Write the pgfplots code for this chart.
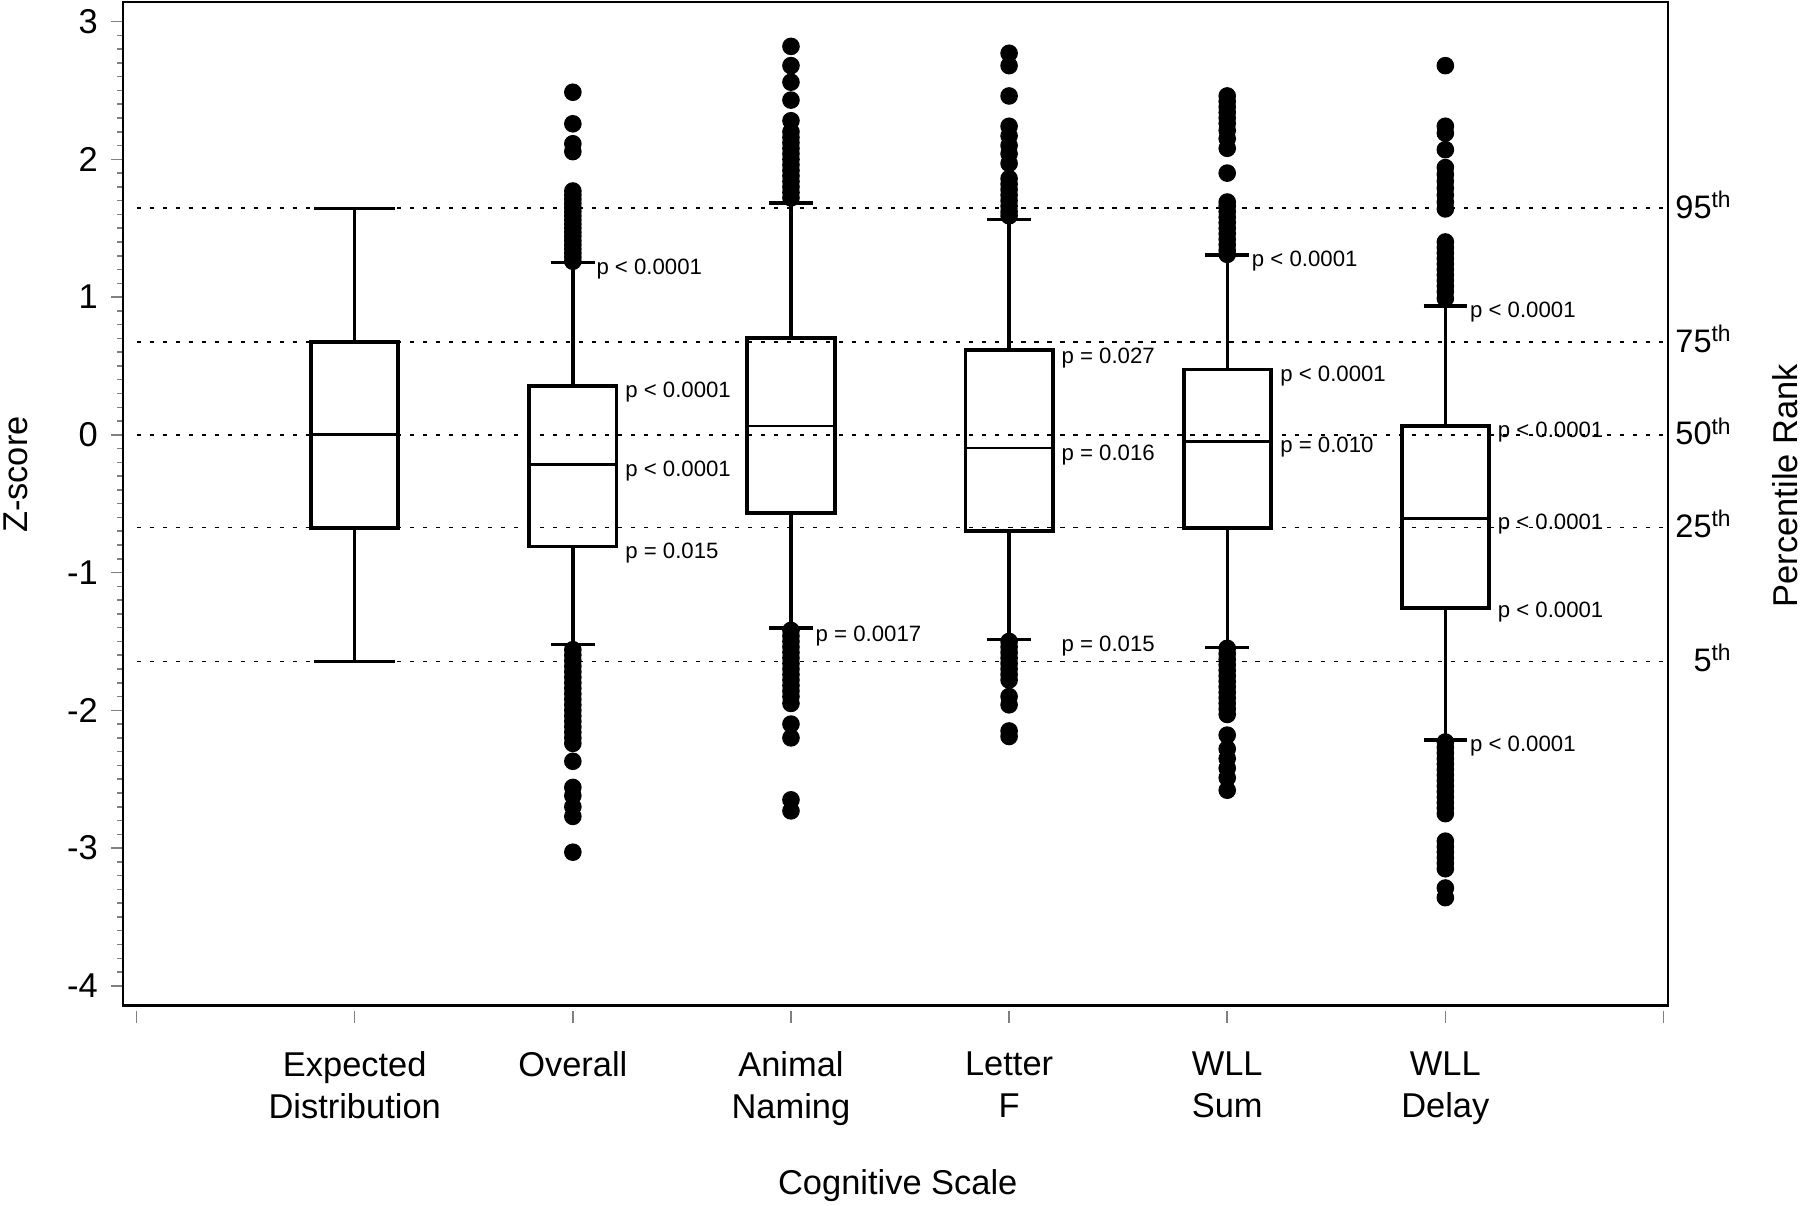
\documentclass[border=0pt]{standalone}
\usepackage{pgfplots}
\pgfplotsset{compat=1.18}
\usepgfplotslibrary{statistics}
\usepackage{fontspec}
\setmainfont{Liberation Sans}

\begin{document}
\begin{tikzpicture}
\begin{axis}[
  scale only axis, width=403.8pt, height=262.2pt,
  xmin=-0.063, xmax=7.021, ymin=-4.142, ymax=3.142,
  axis line style={line width=0.6pt},
  clip=false,
  xtick={0,...,7},
  xticklabels={{},{Expected\\Distribution},{Overall},{Animal\\Naming},{Letter\\F},{WLL\\Sum},{WLL\\Delay},{}},
  xticklabel style={align=center, font=\fontsize{9}{11}\selectfont, yshift=-5.5pt},
  xtick pos=left, ytick pos=left,
  tick align=outside,
  major tick length=3pt, minor tick length=1.5pt,
  xtick style={yshift=-1.5pt, line width=0.4pt},
  ytick={-4,...,3}, minor y tick num=9,
  ytick style={line width=0.4pt},
  yticklabel style={font=\fontsize{9}{11}\selectfont},
  /pgf/number format/assume math mode=true,
  xlabel={Cognitive Scale},
  xlabel style={at={(axis description cs:0.5015,-0.18)}, anchor=center, font=\fontsize{9}{11}\selectfont},
  ylabel={Z-score},
  ylabel style={at={(axis description cs:-0.069,0.529)}, anchor=center, font=\fontsize{9}{11}\selectfont},
  boxplot/draw direction=y,
  boxplot/every box/.style={line width=1pt},
  boxplot/every whisker/.style={line width=0.9pt},
  boxplot/every median/.style={line width=0.75pt},
]
% reference lines
\addplot[black, line width=0.4pt, dash pattern=on 1.1pt off 2.3pt] coordinates {(0,1.645) (7,1.645)};
\addplot[black, line width=0.4pt, dash pattern=on 1.1pt off 2.3pt] coordinates {(0,0.674) (7,0.674)};
\addplot[black, line width=0.4pt, dash pattern=on 1.1pt off 2.3pt] coordinates {(0,0) (7,0)};
\addplot[black, line width=0.4pt, dash pattern=on 1.1pt off 2.3pt] coordinates {(0,-0.674) (7,-0.674)};
\addplot[black, line width=0.4pt, dash pattern=on 1.1pt off 2.3pt] coordinates {(0,-1.645) (7,-1.645)};

% Expected Distribution
\addplot[black, line width=0.9pt, boxplot prepared={draw position=1, median=0, upper quartile=0.674, lower quartile=-0.674, upper whisker=1.645, lower whisker=-1.645, box extend=0.4, whisker extend=0.37}] coordinates {};

% Overall
\addplot[black, line width=0.9pt, mark=*, mark size=2.1pt, mark options={fill=black, solid, line width=0.4pt},
  boxplot prepared={draw position=2, median=-0.213, upper quartile=0.354, lower quartile=-0.811, upper whisker=1.249, lower whisker=-1.523, box extend=0.4, whisker extend=0.2}]
  table[row sep=\\, y index=0] {y\\ 2.487\\ 2.258\\ 2.113\\ 2.056\\ 1.77\\ 1.74\\ 1.71\\ 1.68\\ 1.65\\ 1.62\\ 1.59\\ 1.56\\ 1.53\\ 1.50\\ 1.47\\ 1.44\\ 1.41\\ 1.38\\ 1.35\\ 1.32\\ 1.29\\ 1.26\\
  -1.56\\ -1.60\\ -1.64\\ -1.68\\ -1.72\\ -1.76\\ -1.80\\ -1.84\\ -1.88\\ -1.92\\ -1.96\\ -2.00\\ -2.04\\ -2.08\\ -2.12\\ -2.16\\ -2.20\\ -2.24\\ -2.37\\ -2.56\\ -2.62\\ -2.70\\ -2.77\\ -3.03\\};

% Animal Naming
\addplot[black, line width=0.9pt, mark=*, mark size=2.1pt, mark options={fill=black, solid, line width=0.4pt},
  boxplot prepared={draw position=3, median=0.064, upper quartile=0.704, lower quartile=-0.568, upper whisker=1.682, lower whisker=-1.404, box extend=0.4, whisker extend=0.2}]
  table[row sep=\\, y index=0] {y\\ 2.82\\ 2.68\\ 2.56\\ 2.43\\ 2.28\\ 2.20\\ 2.16\\ 2.12\\ 2.08\\ 2.04\\ 2.00\\ 1.96\\ 1.92\\ 1.88\\ 1.84\\ 1.80\\ 1.76\\ 1.72\\
  -1.42\\ -1.46\\ -1.50\\ -1.54\\ -1.58\\ -1.62\\ -1.66\\ -1.70\\ -1.74\\ -1.78\\ -1.82\\ -1.86\\ -1.90\\ -1.95\\ -2.10\\ -2.20\\ -2.65\\ -2.73\\};

% Letter F
\addplot[black, line width=0.9pt, mark=*, mark size=2.1pt, mark options={fill=black, solid, line width=0.4pt},
  boxplot prepared={draw position=4, median=-0.096, upper quartile=0.615, lower quartile=-0.698, upper whisker=1.565, lower whisker=-1.486, box extend=0.4, whisker extend=0.2}]
  table[row sep=\\, y index=0] {y\\ 2.77\\ 2.68\\ 2.46\\ 2.24\\ 2.17\\ 2.10\\ 2.04\\ 1.97\\ 1.86\\ 1.82\\ 1.78\\ 1.74\\ 1.70\\ 1.66\\ 1.62\\ 1.59\\
  -1.50\\ -1.54\\ -1.58\\ -1.62\\ -1.66\\ -1.70\\ -1.74\\ -1.78\\ -1.90\\ -1.96\\ -2.15\\ -2.19\\};

% WLL Sum
\addplot[black, line width=0.9pt, mark=*, mark size=2.1pt, mark options={fill=black, solid, line width=0.4pt},
  boxplot prepared={draw position=5, median=-0.046, upper quartile=0.474, lower quartile=-0.677, upper whisker=1.305, lower whisker=-1.543, box extend=0.4, whisker extend=0.2}]
  table[row sep=\\, y index=0] {y\\ 2.46\\ 2.42\\ 2.38\\ 2.34\\ 2.30\\ 2.26\\ 2.21\\ 2.15\\ 2.08\\ 1.90\\ 1.69\\ 1.66\\ 1.62\\ 1.58\\ 1.54\\ 1.50\\ 1.46\\ 1.42\\ 1.38\\ 1.34\\ 1.31\\
  -1.55\\ -1.59\\ -1.63\\ -1.67\\ -1.71\\ -1.75\\ -1.79\\ -1.83\\ -1.87\\ -1.91\\ -1.95\\ -1.99\\ -2.03\\ -2.18\\ -2.28\\ -2.35\\ -2.42\\ -2.49\\ -2.58\\};

% WLL Delay
\addplot[black, line width=0.9pt, mark=*, mark size=2.1pt, mark options={fill=black, solid, line width=0.4pt},
  boxplot prepared={draw position=6, median=-0.605, upper quartile=0.067, lower quartile=-1.257, upper whisker=0.935, lower whisker=-2.217, box extend=0.4, whisker extend=0.2}]
  table[row sep=\\, y index=0] {y\\ 2.68\\ 2.24\\ 2.19\\ 2.07\\ 1.94\\ 1.89\\ 1.84\\ 1.79\\ 1.74\\ 1.69\\ 1.64\\ 1.40\\ 1.36\\ 1.32\\ 1.28\\ 1.24\\ 1.20\\ 1.16\\ 1.12\\ 1.08\\ 1.04\\ 0.99\\
  -2.23\\ -2.27\\ -2.31\\ -2.35\\ -2.39\\ -2.43\\ -2.47\\ -2.51\\ -2.55\\ -2.59\\ -2.63\\ -2.67\\ -2.71\\ -2.75\\ -2.95\\ -2.99\\ -3.03\\ -3.07\\ -3.11\\ -3.15\\ -3.29\\ -3.36\\};

% p-value annotations
\begin{scope}[every node/.style={anchor=west, inner sep=0pt, font=\fontsize{5.8}{7}\selectfont}]
\node at (axis cs:2.105,1.20) {p < 0.0001};
\node at (axis cs:2.237,0.31) {p < 0.0001};
\node at (axis cs:2.237,-0.26) {p < 0.0001};
\node at (axis cs:2.237,-0.86) {p = 0.015};
\node at (axis cs:3.11,-1.46) {p = 0.0017};
\node at (axis cs:4.237,0.56) {p = 0.027};
\node at (axis cs:4.237,-0.15) {p = 0.016};
\node at (axis cs:4.237,-1.53) {p = 0.015};
\node at (axis cs:5.11,1.26) {p < 0.0001};
\node at (axis cs:5.24,0.425) {p < 0.0001};
\node at (axis cs:5.24,-0.09) {p = 0.010};
\node at (axis cs:6.11,0.89) {p < 0.0001};
\node at (axis cs:6.237,0.017) {p < 0.0001};
\node at (axis cs:6.237,-0.65) {p < 0.0001};
\node at (axis cs:6.237,-1.29) {p < 0.0001};
\node at (axis cs:6.11,-2.26) {p < 0.0001};
\end{scope}

% percentile labels
\begin{scope}[every node/.style={anchor=mid east, inner sep=0pt, font=\fontsize{8.5}{10}\selectfont}]
\node at (axis cs:7.32,1.645) {95\textsuperscript{th}};
\node at (axis cs:7.32,0.674) {75\textsuperscript{th}};
\node at (axis cs:7.32,0) {50\textsuperscript{th}};
\node at (axis cs:7.32,-0.674) {25\textsuperscript{th}};
\node at (axis cs:7.32,-1.645) {5\textsuperscript{th}};
\end{scope}
\node[rotate=90, anchor=center, font=\fontsize{9}{11}\selectfont] at (axis description cs:1.0758,0.518) {Percentile Rank};

\coordinate (BL) at (axis description cs:-0.0795,-0.1993);
\coordinate (TR) at (axis description cs:1.0854,1.002);
\end{axis}
\pgfresetboundingbox
\path[use as bounding box] (BL) rectangle (TR);
\end{tikzpicture}
\end{document}
